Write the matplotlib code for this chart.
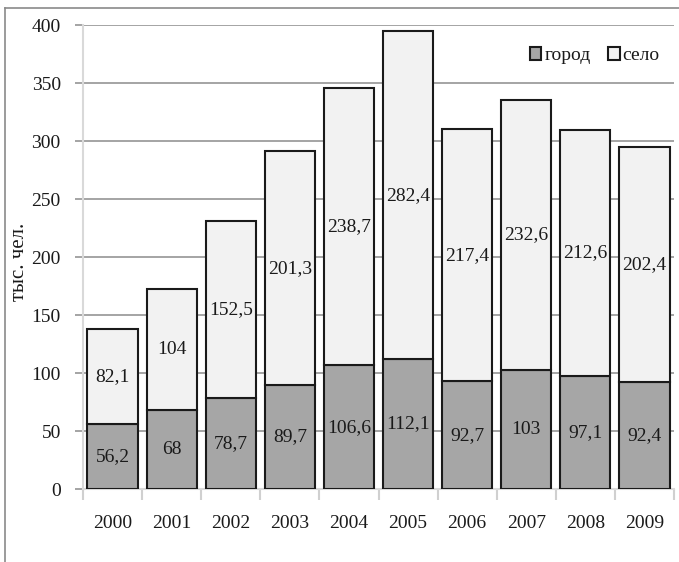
import matplotlib
matplotlib.use("Agg")
import matplotlib.pyplot as plt
from matplotlib.lines import Line2D
import numpy as np

# Population by year, thousand people
years = ["2000", "2001", "2002", "2003", "2004", "2005", "2006", "2007", "2008", "2009"]
city = [56.2, 68, 78.7, 89.7, 106.6, 112.1, 92.7, 103, 97.1, 92.4]
village = [82.1, 104, 152.5, 201.3, 238.7, 282.4, 217.4, 232.6, 212.6, 202.4]
series_names = ["город", "село"]
y_label = "тыс. чел."
y_ticks = [0, 50, 100, 150, 200, 250, 300, 350, 400]

plt.rcParams["font.family"] = ["Liberation Serif", "DejaVu Serif"]

fig = plt.figure(figsize=(6.79, 5.62), dpi=100)
ax = fig.add_axes([83 / 679, 1 - 489 / 562, (674 - 83) / 679, (489 - 25) / 562])

x = np.arange(len(years))
w = 0.85
text_col = "#1a1a1a"
edge = "#1a1a1a"

ax.bar(x, city, w, color="#a6a6a6", edgecolor=edge, linewidth=1.5, zorder=3,
       label=series_names[0])
ax.bar(x, village, w, bottom=city, color="#f2f2f2", edgecolor=edge, linewidth=1.5,
       zorder=3, label=series_names[1])


def fmt(v):
    return f"{v:g}".replace(".", ",")


for xi, c, v in zip(x, city, village):
    ax.text(xi, c / 2, fmt(c), ha="center", va="center", fontsize=14, color=text_col, zorder=4)
    ax.text(xi, c + v / 2, fmt(v), ha="center", va="center", fontsize=14, color=text_col, zorder=4)

ax.set_xlim(-0.5, len(years) - 0.5)
ax.set_ylim(0, 400)
ax.set_yticks(y_ticks)
ax.set_yticklabels([str(t) for t in y_ticks], fontsize=14, color=text_col)
ax.yaxis.grid(True, color="#8c8c8c", linewidth=1.1, zorder=0)
ax.tick_params(axis="y", length=6, width=1.1, color="#8c8c8c", pad=10)

ax.set_xticks(x)
ax.set_xticklabels(years, fontsize=14, color=text_col)
ax.set_xticks(np.arange(-0.5, len(years), 1.0), minor=True)
ax.tick_params(axis="x", which="major", length=0, pad=19)
ax.tick_params(axis="x", which="minor", length=8, width=1.5, color="#d0d0d0")

for s in ["top", "right"]:
    ax.spines[s].set_visible(False)
ax.spines["left"].set_color("#d9d9d9")
ax.spines["left"].set_linewidth(1.5)
ax.spines["bottom"].set_color("#d9d9d9")
ax.spines["bottom"].set_linewidth(1.5)
ax.set_axisbelow(True)

ax.set_ylabel(y_label, fontsize=15, color=text_col)
ax.yaxis.set_label_coords(-0.091, 0.49)

leg = ax.legend(loc="upper right", bbox_to_anchor=(0.976, 0.952), ncol=2, frameon=False,
                fontsize=14, handlelength=0.6, handleheight=0.6, handletextpad=0.15,
                columnspacing=0.9, borderpad=0, borderaxespad=0)
for t in leg.get_texts():
    t.set_color(text_col)

# outer frame of the figure
fx0 = 5 / 679
fy1 = 1 - 8 / 562
fig.add_artist(Line2D([fx0, 1.0], [fy1, fy1], transform=fig.transFigure, color="#8a8a8a", lw=1.2))
fig.add_artist(Line2D([fx0, fx0], [0.0, fy1], transform=fig.transFigure, color="#8a8a8a", lw=1.2))

fig.savefig("out.png", dpi=100)
